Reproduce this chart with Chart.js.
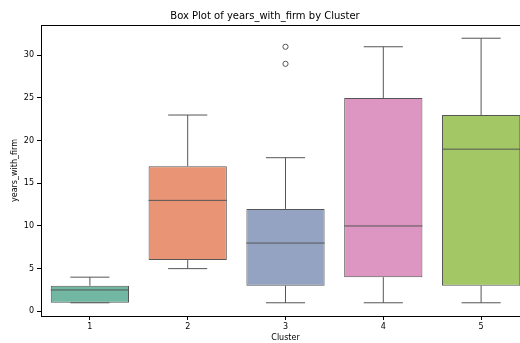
<!DOCTYPE html>
<html>
<head>
<meta charset="utf-8">
<script src="https://cdn.jsdelivr.net/npm/chart.js@4"></script>
<style>
  html, body { margin: 0; padding: 0; background: #fff; overflow: hidden; }
  #wrap { width: 545px; height: 343px; }
</style>
</head>
<body>
<div id="wrap"><canvas id="chart"></canvas></div>
<script>
// datos
const clusters = ['1', '2', '3', '4', '5'];
const q1 = [1, 6, 3, 4, 3];
const q3 = [3, 17, 12, 25, 23];
const medianas = [2.5, 13, 8, 10, 19];
const bigoteBajo = [1, 5, 1, 1, 1];
const bigoteAlto = [4, 23, 18, 31, 32];
const atipicos = [[], [], [31, 29], [], []];
const yTicks = [0, 5, 10, 15, 20, 25, 30];
const colores = ['#72b7a1', '#e99575', '#95a3c3', '#dc96c1', '#a2c764'];
const colorLinea = '#555555';

const fuente = 'DejaVu Sans, sans-serif';

// dibuja medianas, bigotes y atipicos sobre las cajas
const bigotesPlugin = {
  id: 'bigotes',
  afterDatasetsDraw(chart) {
    const { ctx, scales: { x, y }, chartArea } = chart;
    const meta = chart.getDatasetMeta(0);
    ctx.save();
    ctx.strokeStyle = colorLinea;
    ctx.lineWidth = 1;
    clusters.forEach((c, i) => {
      const bar = meta.data[i];
      const cx = x.getPixelForValue(i);
      const half = bar.width / 2;
      const cap = half / 2;
      const yq1 = y.getPixelForValue(q1[i]);
      const yq3 = y.getPixelForValue(q3[i]);
      const ylo = y.getPixelForValue(bigoteBajo[i]);
      const yhi = y.getPixelForValue(bigoteAlto[i]);
      const ymed = y.getPixelForValue(medianas[i]);
      ctx.beginPath();
      // mediana
      ctx.moveTo(cx - half, ymed); ctx.lineTo(cx + half, ymed);
      // bigote superior
      ctx.moveTo(cx, yq3); ctx.lineTo(cx, yhi);
      ctx.moveTo(cx - cap, yhi); ctx.lineTo(cx + cap, yhi);
      // bigote inferior
      ctx.moveTo(cx, yq1); ctx.lineTo(cx, ylo);
      ctx.moveTo(cx - cap, ylo); ctx.lineTo(cx + cap, ylo);
      ctx.stroke();
      atipicos[i].forEach(v => {
        ctx.beginPath();
        ctx.arc(cx, y.getPixelForValue(v), 2.6, 0, Math.PI * 2);
        ctx.stroke();
      });
    });
    // marco superior y derecho
    ctx.strokeStyle = '#000';
    ctx.lineWidth = 1;
    ctx.beginPath();
    ctx.moveTo(chartArea.left, chartArea.top + 0.5);
    ctx.lineTo(chartArea.right, chartArea.top + 0.5);
    ctx.lineTo(chartArea.right, chartArea.bottom);
    ctx.stroke();
    ctx.restore();
  }
};

new Chart(document.getElementById('chart'), {
  type: 'bar',
  data: {
    labels: clusters,
    datasets: [{
      data: clusters.map((c, i) => [q1[i], q3[i]]),
      backgroundColor: colores,
      borderColor: colorLinea,
      borderWidth: 1,
      borderSkipped: false,
      barPercentage: 0.8,
      categoryPercentage: 1.0
    }]
  },
  options: {
    responsive: true,
    maintainAspectRatio: false,
    animation: false,
    layout: { padding: { left: 0, right: 15, top: 0, bottom: 0 } },
    plugins: {
      legend: { display: false },
      tooltip: { enabled: false },
      title: {
        display: true,
        text: 'Box Plot of years_with_firm by Cluster',
        color: '#000',
        font: { family: fuente, size: 10, weight: 'normal', lineHeight: 1.2 },
        padding: { top: 10, bottom: 3 }
      }
    },
    scales: {
      x: {
        offset: true,
        afterFit(axis) { axis.height = 27; },
        grid: { display: true, offset: false, drawOnChartArea: false, tickLength: 4, color: '#000' },
        border: { color: '#000', width: 1 },
        ticks: { color: '#000', font: { family: fuente, size: 8 }, padding: 2 },
        title: {
          display: true, text: 'Cluster', color: '#000',
          font: { family: fuente, size: 8 }, padding: { top: 1, bottom: 0 }
        }
      },
      y: {
        min: -0.55,
        max: 33.55,
        afterBuildTicks(axis) {
          axis.ticks = yTicks.map(v => ({ value: v }));
        },
        afterFit(axis) { axis.width = 41; },
        grid: { display: true, drawOnChartArea: false, tickLength: 4, color: '#000' },
        border: { color: '#000', width: 1 },
        ticks: { color: '#000', font: { family: fuente, size: 8 }, padding: 3 },
        title: {
          display: true, text: 'years_with_firm', color: '#000',
          font: { family: fuente, size: 8 }, padding: { top: 10, bottom: 0 }
        }
      }
    }
  },
  plugins: [bigotesPlugin]
});
</script>
</body>
</html>
